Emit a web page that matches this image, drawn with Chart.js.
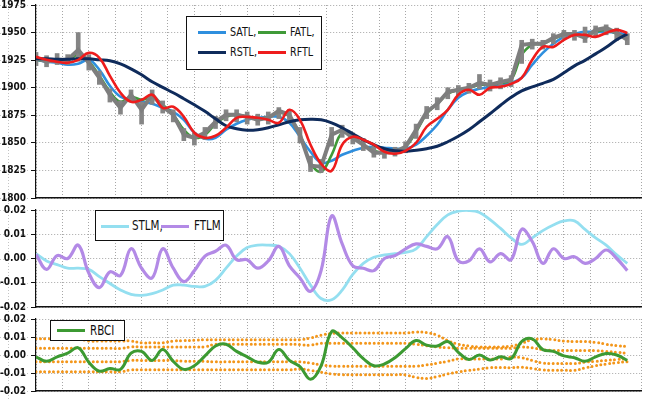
<!DOCTYPE html>
<html>
<head>
<meta charset="utf-8">
<script src="https://cdn.jsdelivr.net/npm/chart.js@4.4.1/dist/chart.umd.min.js"></script>
<style>
  html, body { margin: 0; padding: 0; background: #fff; }
  #wrap { position: relative; width: 650px; height: 399px; overflow: hidden; background: #fff; }
  canvas { position: absolute; left: 0; }
  .legend { position: absolute; background: #fff; border: 1.5px solid #111; box-sizing: border-box; }
  .sample { position: absolute; height: 3px; }
  .lbl { position: absolute; font-family: "Liberation Sans Narrow", "DejaVu Sans Condensed", sans-serif;
         font-size: 13px; color: #111; transform: scaleX(0.82); transform-origin: left center; line-height: 14px; }
</style>
</head>
<body>
<div id="wrap">
  <canvas id="top" width="650" height="203" style="top:0"></canvas>
  <canvas id="mid" width="650" height="108" style="top:203px"></canvas>
  <canvas id="bot" width="650" height="88" style="top:311px"></canvas>

  <div class="legend" style="left:186px;top:16px;width:136px;height:54px">
    <div class="sample" style="left:11px;top:14px;width:28px;background:#2f8fde"></div>
    <div class="lbl" style="left:43px;top:8px">SATL,</div>
    <div class="sample" style="left:71px;top:14px;width:28px;background:#3f9a38"></div>
    <div class="lbl" style="left:103px;top:8px">FATL,</div>
    <div class="sample" style="left:11px;top:34px;width:28px;background:#0f2b5b"></div>
    <div class="lbl" style="left:43px;top:28px">RSTL,</div>
    <div class="sample" style="left:71px;top:34px;width:28px;background:#ee1c1c"></div>
    <div class="lbl" style="left:103px;top:28px">RFTL</div>
  </div>

  <div class="legend" style="left:95px;top:210px;width:129px;height:31px">
    <div class="sample" style="left:5px;top:14px;width:28px;background:#94dff0"></div>
    <div class="lbl" style="left:36px;top:7px;font-size:14px">STLM,</div>
    <div class="sample" style="left:65px;top:14px;width:28px;background:#b38ae6"></div>
    <div class="lbl" style="left:98px;top:7px;font-size:14px">FTLM</div>
  </div>

  <div class="legend" style="left:50px;top:320px;width:75px;height:21px">
    <div class="sample" style="left:6px;top:8px;width:28px;background:#3c9a32"></div>
    <div class="lbl" style="left:39px;top:2px;font-size:14px">RBCI</div>
  </div>
</div>

<script>
// bar index (shared x positions)
const idx = [0,1,2,3,4,5,6,7,8,9,10,11,12,13,14,15,16,17,18,19,20,21,22,23,24,25,26,27,28,
  29,30,31,32,33,34,35,36,37,38,39,40,41,42,43,44,45,46,47,48,49,50,51,52,53,54,55,56];

// price bars
const priceClose = [1927,1923.5,1925.3,1925.3,1934.3,1922.6,1909,1893.6,1881.8,1893.6,1880,1893.6,1882.7,1875.5,
  1857.3,1854.6,1859.2,1869.1,1875.5,1875.5,1873.6,1870.9,1872.7,1879.1,1875.5,1857.3,1829.3,1828.4,1857.3,
  1861.9,1854.6,1848.3,1841,1841,1841.9,1846.5,1861.9,1878.2,1885.4,1896.3,1898.1,1899.9,1904.4,1902.6,
  1905.3,1907.2,1938.9,1939.8,1939.8,1945.2,1948.8,1948.8,1945.2,1952.4,1954.2,1949.7,1943.4];
const priceHigh = [1932,1929,1931,1930,1950,1930,1915,1899,1888,1898,1887,1898,1888,1880,1863,1859,1864,1874,
  1880,1880,1878,1876,1878,1882,1880,1864,1838,1835,1864,1866,1859,1854,1847,1845,1846,1851,1867,1883,1891,
  1900,1902,1904,1912,1907,1909,1911,1943,1944,1943,1949,1952,1952,1955,1956,1957,1954,1949];
const priceLow = [1920,1919,1921,1921,1924,1916,1903,1887,1876,1887,1867,1885,1877,1869,1852,1848,1853,1863,
  1870,1869,1867,1866,1867,1872,1868,1850,1824,1823,1847,1855,1849,1843,1837,1836,1838,1841,1854,1872,1880,
  1890,1893,1895,1899,1897,1899,1901,1922,1935,1935,1940,1944,1943,1941,1947,1948,1943,1939];

// filters on the price panel
const satl = [1925.3,1923.5,1922.6,1920.8,1921.7,1925.3,1916.2,1901.7,1891.8,1889,1887.2,1885.4,1881.8,1878.2,
  1870.9,1859.2,1853.7,1854.6,1861.9,1867.3,1870.9,1872.7,1873.6,1873.6,1868.2,1855.5,1841.9,1832,1833.8,
  1839.2,1842.8,1845.6,1846.5,1845.6,1844.7,1844.7,1848.3,1856.4,1866.4,1880,1890.9,1896.3,1899,1900.8,
  1902.6,1904.4,1909,1920.8,1931.6,1939.8,1946.1,1948.8,1950.6,1950.6,1950.6,1949.7,1947.9];
const fatl = [1925.3,1924.4,1925.3,1925.3,1929.8,1923.5,1910.8,1896.3,1887.2,1891.8,1889,1890.9,1884.5,1875.5,
  1861.9,1854.6,1857.3,1867.3,1873.6,1875.5,1873.6,1871.8,1873.6,1877.3,1873.6,1857.3,1832,1823.8,1839.2,
  1859.2,1855.5,1848.3,1842.8,1841,1842.8,1846.5,1860.1,1876.4,1885.4,1894.5,1898.1,1899.9,1902.6,1902.6,
  1904.4,1907.2,1929.8,1938.9,1939.8,1944.3,1947.9,1948.8,1947,1950.6,1952.4,1948.8,1943.4];
const rstl = [1926.2,1926.2,1925.7,1925.7,1926.2,1926.2,1925.3,1924.4,1921.6,1917.1,1911.7,1905.4,1900.3,1895.4,
  1890,1884.5,1878.6,1871.8,1865.5,1862.8,1861.4,1861.9,1863.7,1866.4,1869.1,1870.9,1871.4,1870.9,1868.2,
  1863.7,1858.2,1852.8,1848.3,1844.7,1842.8,1842.4,1843.3,1844.7,1846.9,1851,1856,1861.9,1869.1,1876.4,
  1884.1,1891.3,1897.2,1900.8,1904,1907.6,1913.5,1919.8,1924.8,1930.7,1936.6,1943.4,1948.8];
const rftl = [1928,1925.3,1923.5,1922.6,1925.3,1931.6,1927.1,1910.8,1895.4,1887.2,1889,1893.6,1881.8,1882.7,
  1873.6,1859.2,1854.6,1856.4,1863.7,1872.7,1873.6,1872.7,1870.9,1868.2,1880,1870.9,1848.3,1831.1,1824.7,
  1848.3,1855.5,1852.8,1848.3,1841.9,1840.1,1842.8,1850.1,1864.6,1871.8,1880,1893.6,1898.1,1893.6,1899.9,
  1900.8,1903.5,1909,1925.3,1937,1937,1943.4,1947.9,1947.9,1946.1,1949.7,1952.4,1949.7];

// momentum panel
const stlm = [0.002,-0.001,-0.0025,-0.004,-0.004,-0.0045,-0.0075,-0.0103,-0.013,-0.0148,-0.0152,-0.0145,-0.013,
  -0.011,-0.011,-0.0115,-0.0115,-0.009,-0.004,0.001,0.0045,0.0055,0.0055,0.005,0.002,-0.004,-0.011,-0.0165,
  -0.017,-0.013,-0.0065,-0.002,0.0005,0.0015,0.002,0.0025,0.004,0.009,0.014,0.018,0.0195,0.0198,0.019,0.016,
  0.0124,0.0085,0.0058,0.0085,0.0115,0.0138,0.0155,0.0155,0.012,0.0085,0.0055,0.0015,-0.002];
const ftlm = [0.0017,-0.0045,0.0012,0,0.0055,-0.006,-0.012,-0.0055,-0.007,0.004,-0.004,-0.008,0.004,-0.004,
  -0.0095,-0.005,0.001,0.003,0.0055,-0.0005,-0.0005,-0.004,-0.001,0.005,-0.003,-0.008,-0.0135,-0.005,0.0175,
  0.006,-0.003,-0.004,-0.005,0,0.0012,0.004,0.006,0.005,0.004,0.009,-0.001,-0.001,0.004,-0.0014,0.002,-0.0005,
  0.012,0.007,-0.002,0.004,0,0.0007,-0.002,0,0.0035,0,-0.005];

// RBCI panel
const rbci = [-0.001,-0.0035,-0.001,0.001,0.004,-0.004,-0.009,-0.0075,-0.008,0.001,0.002,-0.003,0.003,-0.0035,
  -0.008,-0.006,-0.0005,0.005,0.006,0.002,-0.001,-0.004,-0.004,0.003,-0.003,-0.0065,-0.0135,-0.006,0.013,
  0.0095,0.004,-0.002,-0.006,-0.005,-0.0015,0.0035,0.008,0.0055,0.005,0.0075,0.0015,-0.0025,0,-0.0028,-0.001,
  -0.002,0.0075,0.009,0.003,0.002,-0.0005,-0.0015,-0.0035,-0.001,0.0008,0,-0.003];
const bandUpOuter = [0.009,0.009,0.009,0.009,0.009,0.0078,0.0078,0.0078,0.0078,0.0078,0.0068,0.0068,0.0068,
  0.0078,0.008,0.0082,0.0085,0.0085,0.0085,0.0085,0.0085,0.0085,0.0085,0.0085,0.0085,0.0085,0.0095,0.011,
  0.012,0.0122,0.0122,0.0122,0.0122,0.0122,0.0122,0.0122,0.0128,0.0125,0.011,0.008,0.006,0.005,0.0045,0.0045,
  0.0045,0.005,0.0065,0.0085,0.009,0.0085,0.0078,0.0075,0.0075,0.007,0.006,0.0052,0.0047];
const bandUpInner = [0.0037,0.0037,0.0037,0.0037,0.0037,0.0037,0.0037,0.0037,0.0037,0.0045,0.0045,0.0045,
  0.0045,0.0045,0.0045,0.0045,0.0045,0.006,0.006,0.006,0.006,0.006,0.006,0.006,0.006,0.0058,0.0055,0.0065,
  0.0065,0.0065,0.0065,0.0065,0.0065,0.0065,0.0065,0.0065,0.006,0.0052,0.0045,0.004,0.0038,0.0038,0.0038,
  0.0038,0.0038,0.0038,0.0045,0.004,0.003,0.0025,0.0025,0.0025,0.0025,0.0025,0.002,0.0015,0.001];
const bandLoInner = [-0.0037,-0.0037,-0.0037,-0.0037,-0.0037,-0.0037,-0.0037,-0.0037,-0.0037,-0.003,-0.003,
  -0.003,-0.003,-0.003,-0.0035,-0.0035,-0.0035,-0.0038,-0.0038,-0.0038,-0.0038,-0.0038,-0.0038,-0.0038,-0.0038,
  -0.0038,-0.0045,-0.0055,-0.0062,-0.0062,-0.0062,-0.0062,-0.0062,-0.0062,-0.0062,-0.0062,-0.0062,-0.0055,
  -0.0045,-0.0035,-0.0022,-0.0022,-0.0022,-0.0022,-0.0022,-0.0012,-0.0015,-0.003,-0.0045,-0.0047,-0.0047,
  -0.0047,-0.004,-0.0035,-0.003,-0.0025,-0.002];
const bandLoOuter = [-0.0093,-0.0093,-0.0093,-0.0093,-0.0093,-0.0093,-0.0093,-0.0093,-0.0093,-0.0082,-0.0082,
  -0.0082,-0.0082,-0.0082,-0.0082,-0.0082,-0.0082,-0.0082,-0.0082,-0.0082,-0.0082,-0.0082,-0.0082,-0.0082,
  -0.0082,-0.0078,-0.0085,-0.0095,-0.0105,-0.011,-0.011,-0.011,-0.011,-0.011,-0.011,-0.011,-0.0125,-0.013,
  -0.012,-0.0105,-0.0094,-0.0085,-0.0078,-0.007,-0.007,-0.007,-0.0068,-0.0075,-0.0082,-0.0085,-0.0085,-0.0085,
  -0.0072,-0.006,-0.005,-0.0042,-0.0038];

const tickFont = { family: '"Liberation Sans Narrow", "DejaVu Sans Condensed", sans-serif', size: 10, weight: 'bold' };

function line(data, color, width, extra) {
  return Object.assign({ type: 'line', data, borderColor: color, borderWidth: width,
    pointRadius: 0, tension: 0.4, fill: false }, extra || {});
}

function dotted(data) {
  return line(data, '#f3961a', 3, { borderDash: [0, 4.4], borderCapStyle: 'round', tension: 0.4 });
}

// faint dotted gridlines carried out into the label margin, like the sheet behind the chart
const marginGrid = {
  id: 'marginGrid',
  beforeDraw(chart) {
    const { ctx, chartArea, scales } = chart;
    ctx.save();
    ctx.strokeStyle = '#c4c4c4';
    ctx.lineWidth = 1;
    ctx.setLineDash([1, 2]);
    scales.y.ticks.forEach(t => {
      const y = Math.round(scales.y.getPixelForValue(t.value)) + 0.5;
      ctx.beginPath(); ctx.moveTo(0, y); ctx.lineTo(chartArea.left - 6, y); ctx.stroke();
    });
    ctx.beginPath(); ctx.moveTo(8.5, 0); ctx.lineTo(8.5, chart.height); ctx.stroke();
    ctx.restore();
  }
};

function makePanel(id, datasets, ymin, ymax, step, fmt, padTop, padBottom) {
  new Chart(document.getElementById(id), {
    type: 'line',
    data: { labels: idx, datasets },
    plugins: [marginGrid],
    options: {
      responsive: false,
      animation: false,
      layout: { padding: { top: padTop, bottom: padBottom, left: 0, right: 9 } },
      plugins: { legend: { display: false }, tooltip: { enabled: false } },
      scales: {
        x: {
          type: 'linear', min: 0, max: 57.3, offset: false,
          ticks: { display: false, stepSize: 2.5 },
          grid: { color: '#a6a6a6', drawTicks: false, offset: false },
          border: { color: '#111', width: 1.6, dash: [1, 2] },
          afterFit: s => { s.height = 0; s.paddingLeft = 0; s.paddingRight = 0; }
        },
        y: {
          min: ymin, max: ymax,
          ticks: { stepSize: step, font: tickFont, color: '#111', padding: 5, callback: fmt },
          grid: { color: '#a6a6a6', tickColor: '#111', tickLength: 5, tickBorderDash: [] },
          border: { color: '#111', width: 1.2, dash: [1, 2] },
          afterFit: s => { s.width = 36; s.paddingTop = 0; s.paddingBottom = 0; }
        }
      }
    }
  });
}

const fmt2 = v => (Math.abs(v) < 1e-9 ? '0.00' : v.toFixed(2));

makePanel('top', [
  line(rftl, '#ee1c1c', 2.6),
  line(rstl, '#0f2b5b', 3),
  line(priceClose, '#7e7e7e', 4, { tension: 0 }),
  { type: 'bar', data: idx.map((_, i) => [priceLow[i], priceHigh[i]]), backgroundColor: '#858585',
    borderWidth: 0, barThickness: 4 },
  line(fatl, '#3f9a38', 2.6),
  line(satl, '#2f8fde', 2.6)
], 1800, 1975, 25, v => String(Math.round(v)), 5, 5);

makePanel('mid', [
  line(ftlm, '#b38ae6', 3.2),
  line(stlm, '#94dff0', 2.8)
], -0.02, 0.02, 0.01, fmt2, 7, 4);

makePanel('bot', [
  line(rbci, '#3c9a32', 3),
  dotted(bandUpOuter),
  dotted(bandUpInner),
  dotted(bandLoInner),
  dotted(bandLoOuter)
], -0.02, 0.02, 0.01, fmt2, 8, 8);
</script>
</body>
</html>
